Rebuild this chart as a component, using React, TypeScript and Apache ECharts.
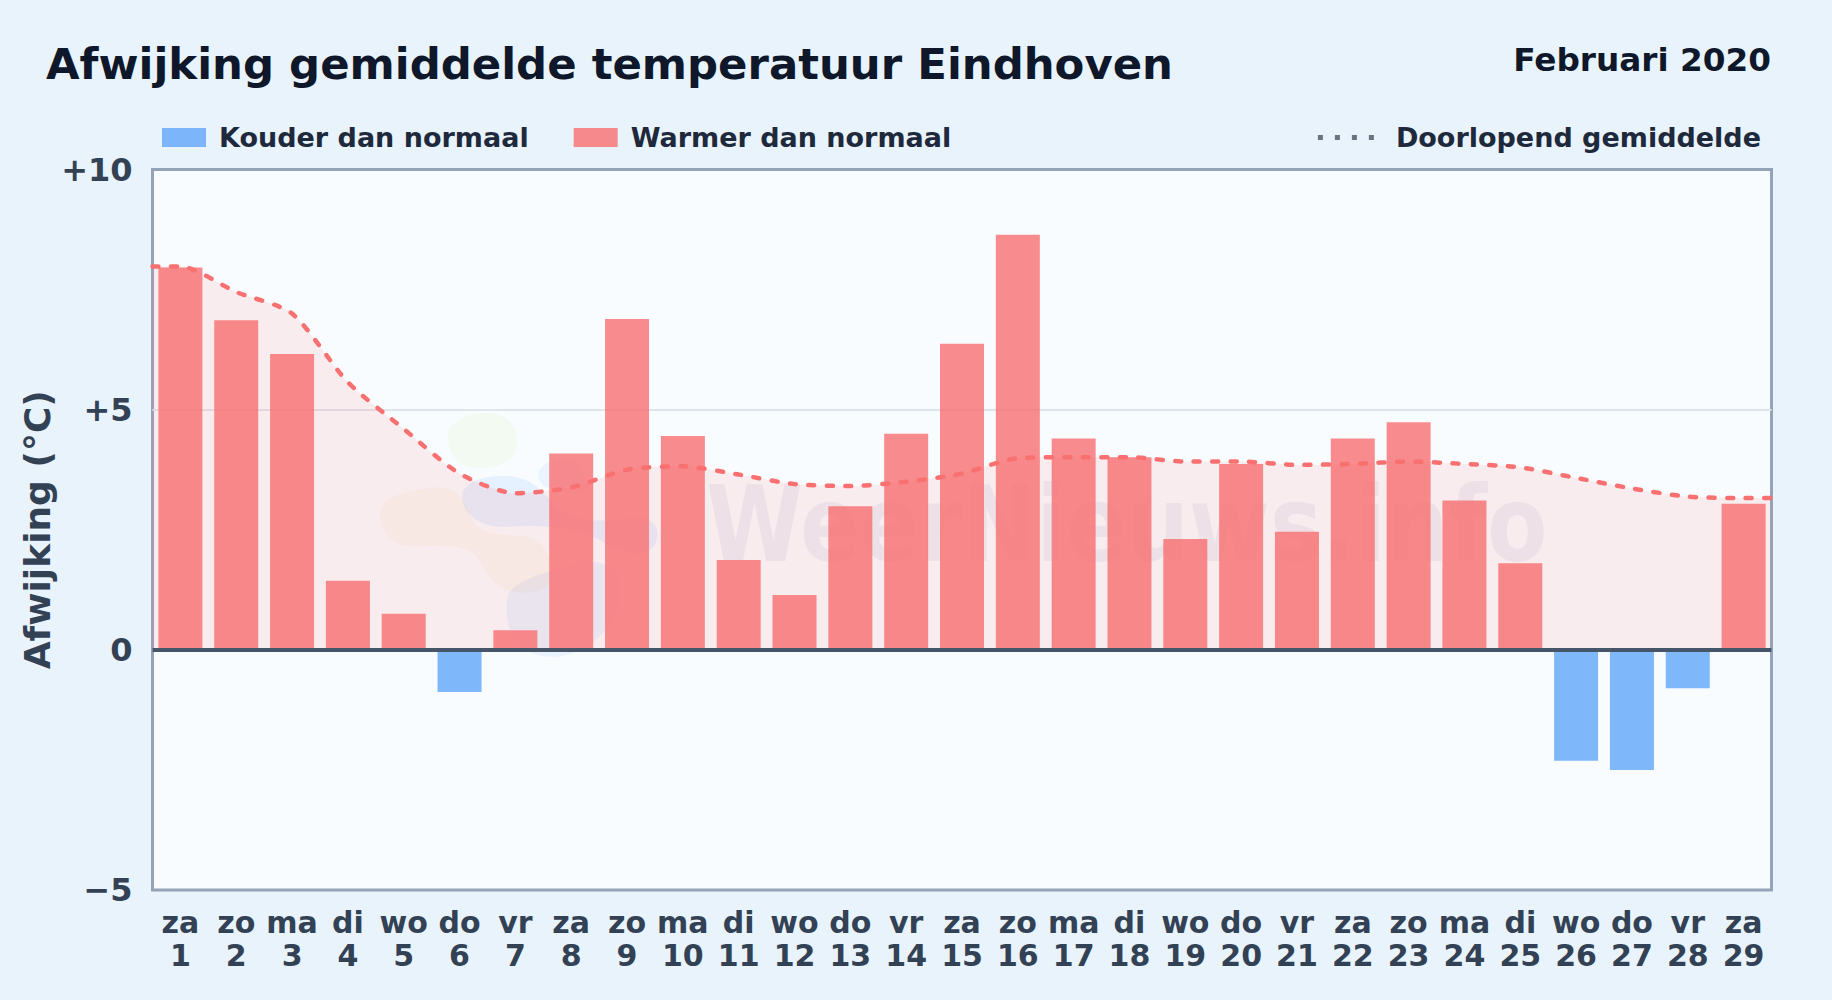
import React, { useEffect, useRef } from "react";
import * as echarts from "echarts";

const weekdays = ["za","zo","ma","di","wo","do","vr","za","zo","ma","di","wo","do","vr","za","zo","ma","di","wo","do","vr","za","zo","ma","di","wo","do","vr","za"];
const days = [1,2,3,4,5,6,7,8,9,10,11,12,13,14,15,16,17,18,19,20,21,22,23,24,25,26,27,28,29];
const deviations = [7.96,6.86,6.16,1.44,0.75,-0.88,0.41,4.09,6.89,4.45,1.87,1.14,2.99,4.5,6.37,8.64,4.4,4.01,2.31,3.87,2.46,4.4,4.74,3.11,1.8,-2.31,-2.5,-0.8,3.04];
const runningAverage = [7.98,7.45,7.0,5.57,4.6,3.67,3.26,3.38,3.75,3.82,3.65,3.45,3.41,3.5,3.67,3.99,4.01,4.01,3.92,3.92,3.85,3.87,3.92,3.87,3.8,3.58,3.36,3.19,3.16];
const yTicks: Record<string, string> = { "-5": "\u22125", "0": "0", "5": "+5", "10": "+10" };

const FONT = "DejaVu Sans";
const categories = weekdays.map((w, i) => `${w}\n${days[i]}`);
const colder = deviations.map((v) => (v < 0 ? v : null));
const warmer = deviations.map((v) => (v >= 0 ? v : null));
const linePoints: [number, number][] = [
  [0, runningAverage[0]],
  ...runningAverage.map((v, i) => [i + 0.5, v] as [number, number]),
  [days.length, runningAverage[runningAverage.length - 1]],
];

const blobGreen = "M448 440 C446 420 470 412 490 413 C510 414 518 430 517 445 C516 460 500 468 480 468 C460 468 450 458 448 440 Z";
const blobOrange = "M380 515 C380 498 400 492 430 488 C450 485 462 492 470 515 C475 530 490 535 520 536 C545 537 552 560 552 575 C552 590 530 595 515 592 C495 590 485 570 475 555 C465 545 440 545 420 547 C395 548 380 535 380 515 Z";
const blobBlue = "M462 495 C465 480 490 473 515 477 C535 480 545 495 560 510 C580 525 610 520 640 518 C660 518 662 540 650 550 C630 560 610 545 590 535 C560 525 530 525 505 527 C480 527 462 515 462 495 Z";
const blobBlueSmall = "M538 475 C540 462 555 458 575 460 L590 490 C570 490 540 495 538 475 Z";
const blobBlueLow = "M507 600 C510 580 540 575 570 565 C590 558 620 560 620 590 C620 620 600 640 580 650 C560 660 540 658 525 650 C510 640 505 620 507 600 Z";
["wmGreen:" + blobGreen, "wmOrange:" + blobOrange, "wmBlue:" + blobBlue, "wmBlueSmall:" + blobBlueSmall, "wmBlueLow:" + blobBlueLow].forEach((s) => {
  const [name, d] = s.split(":");
  echarts.graphic.registerShape(name, echarts.graphic.extendPath(d, {}) as any);
});

export default function App() {
  const ref = useRef<HTMLDivElement>(null);
  useEffect(() => {
    const chart = echarts.init(ref.current!, undefined, { renderer: "svg" });
    chart.setOption({
      animation: false,
      backgroundColor: "#e8f3fb",
      textStyle: { fontFamily: FONT },
      title: [
        {
          text: "Afwijking gemiddelde temperatuur Eindhoven",
          left: 46, top: 42.5, padding: 0,
          textStyle: { fontFamily: FONT, fontWeight: "bold", fontSize: 43.4, color: "#0f172a" },
        },
        {
          text: "Februari 2020",
          right: 61, top: 43, padding: 0,
          textStyle: { fontFamily: FONT, fontWeight: "bold", fontSize: 32.7, color: "#0f172a" },
        },
      ],
      legend: [
        {
          left: 157, top: 119, itemWidth: 44, itemHeight: 19, itemGap: 45,
          data: [{ name: "Kouder dan normaal", icon: "rect" }, { name: "Warmer dan normaal", icon: "rect" }],
          selectedMode: false,
          textStyle: { fontFamily: FONT, fontWeight: "bold", fontSize: 27, color: "#1e293b", padding: [0, 0, 0, 8] },
        },
        {
          right: 66, top: 119, itemWidth: 56, itemHeight: 5,
          data: [{
            name: "Doorlopend gemiddelde",
            icon: "path://M0 0h5v5H0z M17 0h5v5h-5z M34 0h5v5h-5z M51 0h5v5h-5z",
            itemStyle: { color: "#6b7280" },
          }],
          selectedMode: false,
          textStyle: { fontFamily: FONT, fontWeight: "bold", fontSize: 27, color: "#1e293b", padding: [0, 0, 0, 17] },
        },
      ],
      grid: {
        left: 152.5, top: 169.5, width: 1619, height: 720.5,
        show: true, backgroundColor: "#f8fcff", borderColor: "#94a3b8", borderWidth: 3,
      },
      graphic: {
        z: 1,
        elements: [
          { type: "wmGreen", silent: true, style: { fill: "rgba(163,230,53,0.07)" } },
          { type: "wmOrange", silent: true, style: { fill: "rgba(251,191,36,0.06)" } },
          { type: "wmBlue", silent: true, style: { fill: "rgba(96,165,250,0.12)" } },
          { type: "wmBlueSmall", silent: true, style: { fill: "rgba(96,165,250,0.09)" } },
          { type: "wmBlueLow", silent: true, style: { fill: "rgba(96,165,250,0.10)" } },
          {
            type: "text", x: 706, y: 472, scaleY: 1.2, silent: true,
            style: { text: "WeerNieuws.info", fontFamily: FONT, fontWeight: "bold", fontSize: 88, fill: "rgba(30,41,80,0.06)" },
          },
        ],
      },
      xAxis: [
        {
          type: "category", data: categories,
          axisLine: { show: false }, axisTick: { show: false },
          axisLabel: { interval: 0, margin: 16, fontFamily: FONT, fontWeight: "bold", fontSize: 30, lineHeight: 33, color: "#334155" },
        },
        { type: "value", min: 0, max: days.length, show: false },
      ],
      yAxis: {
        type: "value", min: -5, max: 10, interval: 5,
        name: "Afwijking (°C)", nameLocation: "middle", nameGap: 97.5, nameMoveOverlap: false,
        nameTextStyle: { fontFamily: FONT, fontWeight: "bold", fontSize: 36, color: "#334155" },
        axisLine: { show: false }, axisTick: { show: false },
        axisLabel: { margin: 20, fontFamily: FONT, fontWeight: "bold", fontSize: 32, color: "#334155", formatter: (v: number) => yTicks[String(v)] ?? String(v) },
        splitLine: { showMinLine: false, showMaxLine: false, lineStyle: { color: "#dfe5ec", width: 2 } },
      },
      series: [
        {
          name: "Vlak", type: "line", xAxisIndex: 1, data: linePoints, smooth: 0.25,
          symbol: "none", lineStyle: { opacity: 0 }, areaStyle: { origin: 0, color: "rgba(255,107,107,0.155)" }, silent: true,
        },
        {
          name: "Kouder dan normaal", type: "bar", data: colder, barWidth: 44, barGap: "-100%",
          itemStyle: { color: "rgba(96,165,250,0.8)" },
        },
        {
          name: "Warmer dan normaal", type: "bar", data: warmer, barWidth: 44, barGap: "-100%",
          itemStyle: { color: "rgba(248,110,112,0.8)" },
          markLine: {
            silent: true, symbol: "none", label: { show: false }, animation: false,
            lineStyle: { color: "#475569", width: 4, type: "solid" },
            data: [{ yAxis: 0 }],
          },
        },
        {
          name: "Doorlopend gemiddelde", type: "line", xAxisIndex: 1, data: linePoints, smooth: 0.25,
          symbol: "none", lineStyle: { color: "#f97070", width: 4.5, type: [6, 12.5], cap: "round" }, itemStyle: { color: "#6b7280" },
        },
      ],
    });
    return () => chart.dispose();
  }, []);
  return <div ref={ref} style={{ position: "fixed", left: 0, top: 0, width: 1832, height: 1000 }} />;
}
